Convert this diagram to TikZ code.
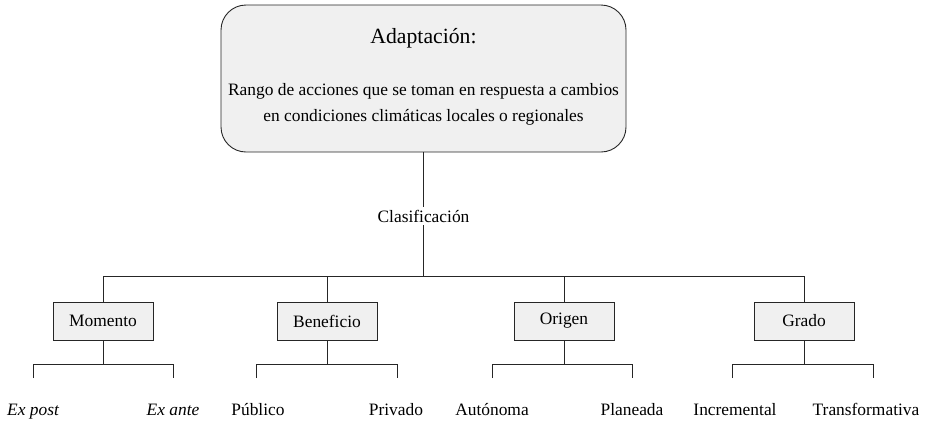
\documentclass[tikz,border=0pt]{standalone}
\usepackage{fontspec}
\setmainfont{Liberation Serif}
\begin{document}
\begin{tikzpicture}[x=1pt,y=-1pt,
  line/.style={draw=black!85,line width=0.9pt},
  txt/.style={font=\fontsize{17.4}{20}\selectfont,inner sep=0pt,anchor=base},
  catbox/.style={draw=black!85,line width=0.9pt,fill=black!6,minimum width=100pt,minimum height=38pt,inner sep=0pt,font=\fontsize{17.4}{20}\selectfont},
  leaf/.style={font=\fontsize{17.4}{20}\selectfont,inner sep=0pt,anchor=base}]
\useasboundingbox (0,0) rectangle (931,421);
% top box
\node[draw=black!85,line width=0.9pt,fill=black!6,rounded corners=25pt,minimum width=405pt,minimum height=147pt,inner sep=0pt] (top) at (423.5,78.5) {};
\node[txt,font=\fontsize{21.7}{24}\selectfont] (title) at (423.5,43) {Adaptación:};
\node[txt] (l1) at (423.5,95) {Rango de acciones que se toman en respuesta a cambios};
\node[txt] (l2) at (423.5,121) {en condiciones climáticas locales o regionales};
% classification
\node[font=\fontsize{17.4}{20}\selectfont,inner sep=3pt] (clas) at (423.5,216) {Clasificación};
\coordinate (hub) at (423.5,276);
\draw[line] (top.south) -- (clas.north);
\draw[line] (clas.south) -- (hub);
% category boxes
\node[catbox] (mom) at (103,321) {Momento};
\node[catbox] (ben) at (327,321) {Beneficio};
\node[catbox] (ori) at (564,321) {Origen};
\node[catbox] (gra) at (804,321) {Grado};
\coordinate (hm) at (103,276);
\coordinate (hb) at (327,276);
\coordinate (ho) at (564,276);
\coordinate (hg) at (804,276);
\draw[line] (hm) -- (hg);
\draw[line] (hm) -- (mom.north);
\draw[line] (hb) -- (ben.north);
\draw[line] (ho) -- (ori.north);
\draw[line] (hg) -- (gra.north);
% sub-branches
\foreach \b/\cx/\xa/\xb in {mom/103/33/173, ben/327/256/397, ori/564/492/632, gra/804/732/873}{
  \coordinate (\b-j) at (\cx,364);
  \coordinate (\b-a) at (\xa,364);
  \coordinate (\b-b) at (\xb,364);
  \coordinate (\b-ae) at (\xa,378);
  \coordinate (\b-be) at (\xb,378);
  \draw[line] (\b.south) -- (\b-j);
  \draw[line] (\b-ae) -- (\b-a) -- (\b-b) -- (\b-be);
}
% leaves
\node[leaf,font=\fontsize{17.4}{20}\selectfont\itshape] (expost) at (33,415) {Ex post};
\node[leaf,font=\fontsize{17.4}{20}\selectfont\itshape] (exante) at (173,415) {Ex ante};
\node[leaf] (pub) at (258,415) {Público};
\node[leaf] (pri) at (396,415) {Privado};
\node[leaf] (aut) at (492,415) {Autónoma};
\node[leaf] (pla) at (632,415) {Planeada};
\node[leaf] (inc) at (735,415) {Incremental};
\node[leaf] (tra) at (866,415) {Transformativa};
\end{tikzpicture}
\end{document}
